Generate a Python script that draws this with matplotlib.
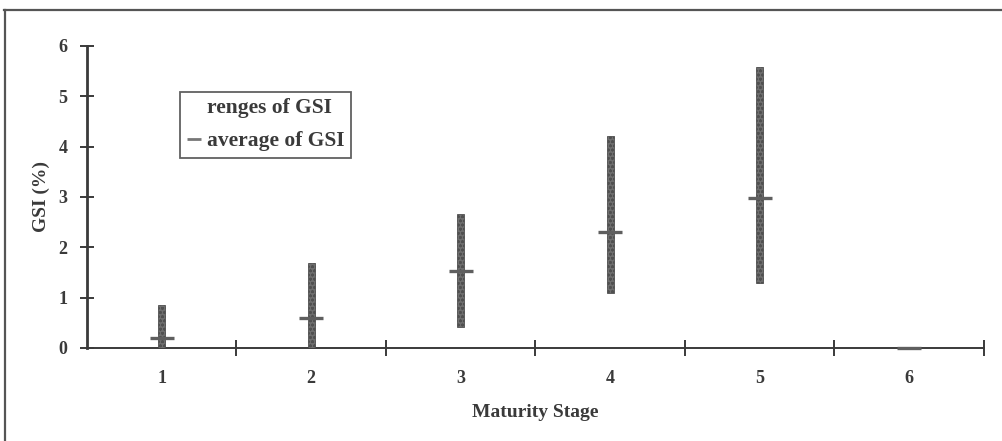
import matplotlib
matplotlib.use("Agg")
import matplotlib.pyplot as plt
from matplotlib.lines import Line2D

stages = [1, 2, 3, 4, 5, 6]
gsi_min = [0.0, 0.0, 0.42, 1.09, 1.30, 0.0]
gsi_max = [0.85, 1.68, 2.66, 4.21, 5.59, 0.0]
gsi_avg = [0.20, 0.60, 1.53, 2.30, 2.98, 0.0]
y_ticks = [0, 1, 2, 3, 4, 5, 6]

plt.rcParams['font.family'] = ['Liberation Serif', 'DejaVu Serif']
plt.rcParams['font.weight'] = 'bold'
plt.rcParams['hatch.color'] = '#d8d8d8'
plt.rcParams['hatch.linewidth'] = 0.8

fig = plt.figure(figsize=(10.02, 4.41), dpi=100)
ax = fig.add_axes([0.0868, 0.2109, 0.895, 0.6848])

ink = '#3a3a3a'
heights = [mx - mn for mx, mn in zip(gsi_max, gsi_min)]
ax.bar(stages, heights, bottom=gsi_min, width=0.046, color='#6e6e6e',
       edgecolor='#505050', linewidth=0.6, hatch='oooo', zorder=3)
ax.plot(stages, gsi_avg, linestyle='none', marker='_', markersize=17,
        markeredgewidth=2.4, color='#5f5f5f', zorder=4, clip_on=False)

ax.set_xlim(0.5, 6.5)
ax.set_ylim(0, 6)
ax.set_yticks(y_ticks)
ax.set_yticklabels([str(v) for v in y_ticks], fontsize=13, fontweight='bold', color=ink)
ax.set_xticks([s + 0.5 for s in stages])
ax.set_xticklabels([])
ax.set_xticks(stages, minor=True)
ax.set_xticklabels([str(s) for s in stages], minor=True, fontsize=13,
                   fontweight='bold', color=ink)
ax.tick_params(axis='x', which='major', direction='inout', length=12, width=1.4, colors=ink)
ax.tick_params(axis='x', which='minor', length=0, pad=16)
ax.tick_params(axis='y', direction='inout', length=10, width=1.4, colors=ink, pad=9)

for s in ['top', 'right']:
    ax.spines[s].set_visible(False)
ax.spines['left'].set_linewidth(2.0)
ax.spines['left'].set_color(ink)
ax.spines['bottom'].set_linewidth(1.4)
ax.spines['bottom'].set_color(ink)

ax.set_xlabel('Maturity Stage', fontsize=14, fontweight='bold', color=ink, labelpad=12)
ax.set_ylabel('GSI (%)', fontsize=14, fontweight='bold', color=ink, labelpad=6)

handles = [Line2D([], [], color='none'),
           Line2D([], [], linestyle='none', marker='_', markersize=10,
                  markeredgewidth=2, color='#777777')]
leg = ax.legend(handles, ['renges of GSI', 'average of GSI'], loc='upper left',
                bbox_to_anchor=(0.1037, 0.848), frameon=True, fancybox=False,
                handlelength=0.7, handletextpad=0.25, borderpad=0.3,
                borderaxespad=0.0, labelspacing=0.6,
                prop={'family': 'Liberation Serif', 'weight': 'bold', 'size': 15.5})
leg.get_frame().set_edgecolor(ink)
leg.get_frame().set_linewidth(1.3)
for t in leg.get_texts():
    t.set_color(ink)

# outer frame (top and left edges visible)
fig.add_artist(Line2D([0.004, 1.0], [0.977, 0.977], transform=fig.transFigure,
                      color='#555555', linewidth=1.6))
fig.add_artist(Line2D([0.005, 0.005], [0.0, 0.977], transform=fig.transFigure,
                      color='#555555', linewidth=1.6))

fig.savefig('out.png', dpi=100)
